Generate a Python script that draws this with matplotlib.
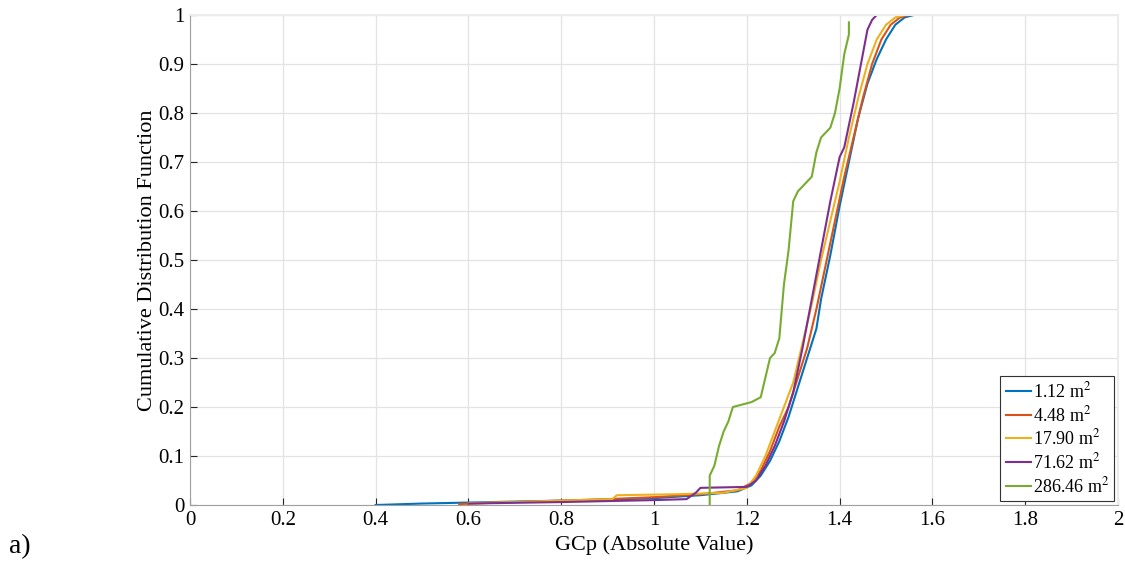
import matplotlib
matplotlib.use("Agg")
import matplotlib.pyplot as plt

plt.rcParams['font.family'] = ['Liberation Serif', 'DejaVu Serif']
plt.rcParams['mathtext.fontset'] = 'stix'

# Empirical CDFs of |GCp| for each tributary area
labels = ["1.12 m$^2$", "4.48 m$^2$", "17.90 m$^2$", "71.62 m$^2$", "286.46 m$^2$"]
colors = ["#0072BD", "#D95319", "#EDB120", "#7E2F8E", "#77AC30"]

blue_x = [0.40, 0.50, 0.60, 0.70, 0.80, 0.90, 1.00, 1.10, 1.18, 1.21, 1.23, 1.25, 1.27, 1.29,
          1.31, 1.33, 1.35, 1.36, 1.38, 1.40, 1.42, 1.44, 1.46, 1.48, 1.50, 1.52, 1.54, 1.56]
blue_y = [0.000, 0.003, 0.005, 0.007, 0.009, 0.011, 0.014, 0.020, 0.028, 0.040, 0.060, 0.090,
          0.130, 0.180, 0.240, 0.300, 0.360, 0.420, 0.510, 0.610, 0.700, 0.790, 0.860, 0.910,
          0.950, 0.980, 0.995, 1.000]

orange_x = [0.58, 0.70, 0.80, 0.90, 1.00, 1.10, 1.18, 1.21, 1.23, 1.25, 1.27, 1.29, 1.31,
            1.33, 1.35, 1.37, 1.39, 1.41, 1.43, 1.45, 1.47, 1.49, 1.51, 1.53, 1.55]
orange_y = [0.002, 0.006, 0.009, 0.012, 0.016, 0.022, 0.030, 0.045, 0.070, 0.110, 0.160,
            0.200, 0.260, 0.320, 0.400, 0.490, 0.580, 0.670, 0.750, 0.830, 0.900, 0.950,
            0.980, 0.995, 1.000]

yellow_x = [0.60, 0.70, 0.80, 0.91, 0.92, 1.05, 1.15, 1.20, 1.22, 1.24, 1.26, 1.28, 1.30,
            1.32, 1.34, 1.36, 1.38, 1.40, 1.42, 1.44, 1.46, 1.48, 1.50, 1.52, 1.54]
yellow_y = [0.004, 0.006, 0.009, 0.012, 0.020, 0.022, 0.025, 0.035, 0.060, 0.100, 0.150,
            0.200, 0.250, 0.330, 0.410, 0.500, 0.580, 0.660, 0.750, 0.830, 0.900, 0.950,
            0.980, 0.995, 1.000]

purple_x = [0.60, 0.80, 1.00, 1.07, 1.09, 1.10, 1.20, 1.22, 1.24, 1.26, 1.28, 1.30, 1.32,
            1.34, 1.36, 1.38, 1.40, 1.41, 1.43, 1.45, 1.46, 1.47, 1.48]
purple_y = [0.003, 0.006, 0.010, 0.012, 0.025, 0.035, 0.037, 0.050, 0.080, 0.120, 0.170,
            0.230, 0.320, 0.420, 0.520, 0.620, 0.710, 0.730, 0.820, 0.920, 0.970, 0.990, 1.000]

green_x = [1.12, 1.12, 1.13, 1.14, 1.15, 1.16, 1.17, 1.21, 1.23, 1.24, 1.25, 1.26, 1.27,
           1.28, 1.29, 1.30, 1.31, 1.33, 1.34, 1.35, 1.36, 1.38, 1.39, 1.40, 1.41, 1.42, 1.42]
green_y = [0.000, 0.060, 0.080, 0.120, 0.150, 0.170, 0.200, 0.210, 0.220, 0.260, 0.300,
           0.310, 0.340, 0.450, 0.520, 0.620, 0.640, 0.660, 0.670, 0.720, 0.750, 0.770,
           0.800, 0.850, 0.920, 0.960, 0.985]

series = [(blue_x, blue_y), (orange_x, orange_y), (yellow_x, yellow_y),
          (purple_x, purple_y), (green_x, green_y)]

fig = plt.figure(figsize=(11.25, 5.61), dpi=100)
ax = fig.add_axes([0.1689, 0.0998, 0.8249, 0.8735])

for (xs, ys), c, lab in zip(series, colors, labels):
    ax.plot(xs, ys, color=c, lw=1.5, label=lab)

ax.set_xlim(0, 2)
ax.set_ylim(0, 1)
ax.set_xticks([i / 5 for i in range(11)])
ax.set_xticklabels(["0", "0.2", "0.4", "0.6", "0.8", "1", "1.2", "1.4", "1.6", "1.8", "2"])
ax.set_yticks([i / 10 for i in range(11)])
ax.set_yticklabels(["0", "0.1", "0.2", "0.3", "0.4", "0.5", "0.6", "0.7", "0.8", "0.9", "1"])
ax.tick_params(direction='in', labelsize=15, length=5, color='#262626', pad=4)
ax.grid(True, color='#e3e3e3', lw=0.9)
ax.set_axisbelow(True)
for side in ('left', 'bottom'):
    ax.spines[side].set_color('#a0a0a0')
for side in ('top', 'right'):
    ax.spines[side].set_color('#ececec')
    ax.spines[side].set_linewidth(1.5)

ax.set_xlabel("GCp (Absolute Value)", fontsize=16, labelpad=4)
ax.set_ylabel("Cumulative Distribution Function", fontsize=16, labelpad=1)

leg = ax.legend(loc='lower right', fontsize=13, handlelength=1.4, handletextpad=0.1,
                labelspacing=0.2, borderpad=0.3, borderaxespad=0.2, fancybox=False,
                framealpha=1)
leg.get_frame().set_edgecolor('#333333')
leg.get_frame().set_linewidth(0.8)

fig.text(0.008, 0.004, "a)", fontsize=20, va='bottom', ha='left')

fig.savefig("out.png", dpi=100)
